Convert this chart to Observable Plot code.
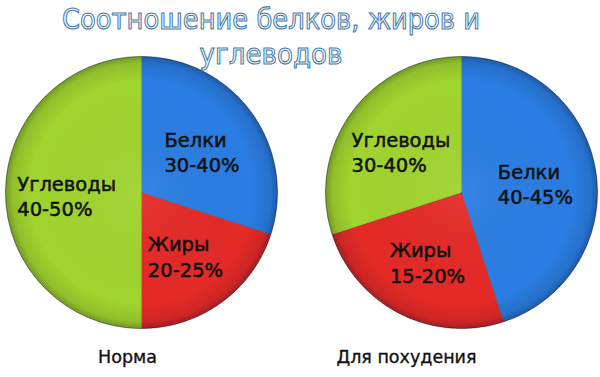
<!DOCTYPE html>
<html><head><meta charset="utf-8">
<script src="https://cdn.jsdelivr.net/npm/d3@7"></script>
<script src="https://cdn.jsdelivr.net/npm/@observablehq/plot@0.6"></script>
<style>
body{margin:0;background:#fff;}
#wrap{position:relative;width:600px;height:377px;overflow:hidden;}
#title{position:absolute;left:0;top:0;pointer-events:none;}
</style></head><body>
<div id="wrap"></div>
<script>
// ---- data ----
const pies = ["Норма", "Для похудения"];
const categories = ["Белки", "Жиры", "Углеводы"];
const normaValues = [30, 20, 50];
const pohudenieValues = [45, 25, 30];
const normaRanges = ["30-40%", "20-25%", "40-50%"];
const pohudenieRanges = ["40-45%", "15-20%", "30-40%"];
const titleLines = ["Соотношение белков, жиров и", "углеводов"];
const colors = ["#2a7de2", "#e42a27", "#a0d42e"];

// ---- layout ----
const R = 136;
const labelFont = "DejaVu Sans";
const labelSize = 19.5;
const pieValues = [normaValues, pohudenieValues];
const pieRanges = [normaRanges, pohudenieRanges];

const ctx = document.createElement("canvas").getContext("2d");
ctx.font = `${labelSize}px '${labelFont}'`;

const polys = [];
const labels = [];
pies.forEach((pie, p) => {
  const arcs = d3.pie().sort(null).value(d => d)(pieValues[p]);
  arcs.forEach((a, i) => {
    const id = pie + "|" + categories[i];
    const pts = [{x: 0, y: 0}];
    const n = Math.max(2, Math.ceil((a.endAngle - a.startAngle) / 0.01));
    for (let k = 0; k <= n; k++) {
      const t = a.startAngle + (a.endAngle - a.startAngle) * k / n;
      pts.push({x: Math.sin(t), y: Math.cos(t)});
    }
    pts.push({x: 0, y: 0});
    pts.forEach(pt => polys.push({pie, id, color: colors[i], x: pt.x, y: pt.y}));
    const mid = (a.startAngle + a.endAngle) / 2;
    const w = Math.max(ctx.measureText(categories[i]).width, ctx.measureText(pieRanges[p][i]).width);
    labels.push({pie, text: categories[i] + "\n" + pieRanges[p][i],
      x: 0.55 * Math.sin(mid) - w / 2 / R, y: 0.55 * Math.cos(mid) - 0.02});
  });
});

const chart = Plot.plot({
  width: 600, height: 377,
  marginLeft: 5, marginRight: 3, marginTop: 56, marginBottom: 49,
  fx: {domain: pies, paddingInner: 0.15, paddingOuter: 0, axis: null, label: null},
  x: {domain: [-1, 1], axis: null},
  y: {domain: [-1, 1], axis: null},
  color: {type: "identity"},
  marks: [
    Plot.line(polys, {fx: "pie", x: "x", y: "y", z: "id", fill: "color",
      stroke: "rgba(0,0,0,0.18)", strokeWidth: 0.8, curve: "linear"}),
    Plot.dot(pies, {fx: d => d, x: 0, y: 0, r: R, fill: "url(#rim)",
      stroke: "rgba(0,0,40,0.3)", strokeWidth: 1}),
    Plot.text(labels, {fx: "pie", x: "x", y: "y", text: "text", textAnchor: "start",
      lineHeight: 1.3, fontSize: labelSize, fontFamily: labelFont, fill: "#111",
      stroke: "#111", strokeWidth: 0.5}),
    Plot.text([pies[0]], {fx: d => d, x: 0, y: -1, text: d => d, dy: 29, dx: -14,
      fontSize: 17.5, fontFamily: labelFont, fill: "#111", stroke: "#111", strokeWidth: 0.35}),
    Plot.text([pies[1]], {fx: d => d, x: 0, y: -1, text: d => d, dy: 29, dx: -55,
      fontSize: 17.5, fontFamily: labelFont, fill: "#111", stroke: "#111", strokeWidth: 0.35})
  ]
});

const defs = d3.select(chart).insert("defs", ":first-child");
const g = defs.append("radialGradient").attr("id", "rim").attr("cx", "50%").attr("cy", "50%").attr("r", "50%");
g.append("stop").attr("offset", "0%").attr("stop-color", "#fff").attr("stop-opacity", 0.06);
g.append("stop").attr("offset", "82%").attr("stop-color", "#000").attr("stop-opacity", 0);
g.append("stop").attr("offset", "95%").attr("stop-color", "#001").attr("stop-opacity", 0.1);
g.append("stop").attr("offset", "100%").attr("stop-color", "#001").attr("stop-opacity", 0.28);

const wrap = document.getElementById("wrap");
wrap.appendChild(chart);

const tsvg = d3.create("svg").attr("id", "title").attr("width", 600).attr("height", 80);
const tl = [[29, 418], [64, 143]];
titleLines.forEach((line, i) => {
  tsvg.append("text").attr("x", 271).attr("y", tl[i][0]).attr("text-anchor", "middle")
    .attr("textLength", tl[i][1]).attr("lengthAdjust", "spacingAndGlyphs")
    .attr("font-family", "DejaVu Sans").attr("font-size", 28)
    .attr("fill", "#f2f9fe").attr("stroke", "#4a7aa6").attr("stroke-width", 1.1)
    .text(line);
});
wrap.appendChild(tsvg.node());
</script>
</body></html>
